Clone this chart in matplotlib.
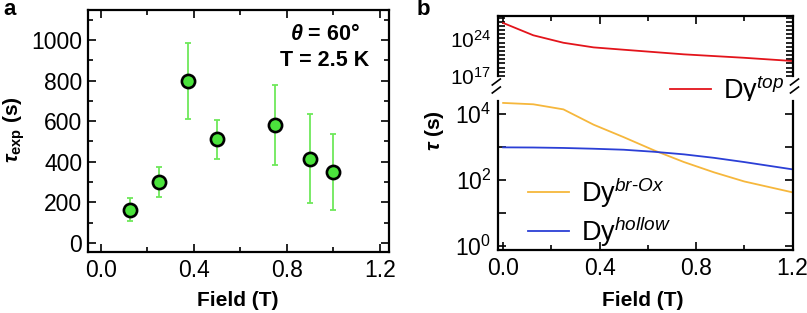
import matplotlib
matplotlib.use('Agg')
import matplotlib.pyplot as plt
from matplotlib.lines import Line2D
from matplotlib.ticker import MultipleLocator, FixedLocator, FixedFormatter, NullLocator

plt.rcParams.update({
    'font.family': ['Liberation Sans', 'DejaVu Sans'],
    'mathtext.fontset': 'custom',
    'mathtext.rm': 'Liberation Sans',
    'mathtext.it': 'Liberation Sans:italic',
    'mathtext.bf': 'Liberation Sans:bold',
    'mathtext.bfit': 'Liberation Sans:italic:bold',
})

# ---------------- data ----------------
# panel a
field_a = [0.125, 0.25, 0.375, 0.5, 0.75, 0.9, 1.0]
tau_exp = [163, 299, 797, 510, 579, 415, 350]
tau_err = [58, 73, 187, 97, 197, 220, 188]

# panel b
field_top = [0.0, 0.125, 0.25, 0.375, 0.5, 0.75, 1.0, 1.2]
tau_top = [8e26, 4e24, 1.6e23, 2.2e22, 8e21, 1.1e21, 2.5e20, 6.3e19]
field_b = [0.0, 0.125, 0.25, 0.375, 0.5, 0.625, 0.75, 0.875, 1.0, 1.2]
tau_brox = [2.2e4, 2.0e4, 1.4e4, 4.8e3, 2.0e3, 8.0e2, 3.5e2, 1.7e2, 9.0e1, 4.2e1]
tau_hollow = [9.8e2, 9.7e2, 9.4e2, 8.9e2, 8.3e2, 7.2e2, 6.0e2, 4.7e2, 3.5e2, 2.1e2]

x_ticks = [0.0, 0.4, 0.8, 1.2]
x_ticklabels = ['0.0', '0.4', '0.8', '1.2']
ya_ticks = [0, 200, 400, 600, 800, 1000]

# ---------------- figure ----------------
W, H = 807, 313
fig = plt.figure(figsize=(W / 100, H / 100), dpi=100)

def rect(l, t, r, b):
    return [l / W, 1 - b / H, (r - l) / W, (b - t) / H]

def fx(x):
    return x / W

def fy(y):
    return 1 - y / H

TICK_FS = 16.5
LAB_FS = 15
GREEN = '#4be33c'
EGREEN = '#6ee85a'
RED = '#e3141b'
ORANGE = '#f6b73c'
BLUE = '#2b3fd6'

def style(ax):
    for s in ax.spines.values():
        s.set_linewidth(1.6)
    ax.tick_params(which='both', direction='in', width=1.2, labelsize=TICK_FS,
                   top=True, right=True)
    ax.tick_params(which='major', length=5.5)
    ax.tick_params(which='minor', length=3.5)

# ---------- panel a ----------
axa = fig.add_axes(rect(87.7, 10, 389, 251.7))
style(axa)
axa.errorbar(field_a, tau_exp, yerr=tau_err, fmt='none', ecolor=EGREEN,
             elinewidth=1.3, capsize=2.4, capthick=1.3, zorder=2)
axa.plot(field_a, tau_exp, 'o', ms=9.5, mfc=GREEN, mec='black', mew=1.9, zorder=3)
axa.set_xlim(-0.057, 1.239)
axa.set_ylim(-44, 1148)
axa.set_xticks(x_ticks)
axa.set_xticklabels(x_ticklabels)
axa.xaxis.set_minor_locator(MultipleLocator(0.2))
axa.set_yticks(ya_ticks)
axa.yaxis.set_minor_locator(MultipleLocator(100))
axa.tick_params(axis='x', pad=5)
axa.tick_params(axis='y', pad=4)
fig.text(fx(325), fy(35), r'$\mathbfit{\theta}$ = 60°', ha='center', va='center',
         fontsize=15.5, fontweight='bold')
fig.text(fx(325), fy(60), 'T = 2.5 K', ha='center', va='center',
         fontsize=15.5, fontweight='bold')
fig.text(fx(238), fy(300), 'Field (T)', ha='center', va='center',
         fontsize=LAB_FS, fontweight='bold')
fig.text(fx(14), fy(130), r'$\mathbfit{\tau}_{\mathbf{exp}}$ (s)', ha='center', va='center',
         rotation=90, fontsize=LAB_FS, fontweight='bold')
fig.text(fx(3), fy(15), 'a', ha='left', va='baseline', fontsize=16, fontweight='bold')

# ---------- panel b ----------
L, R = 498.3, 792.5
axt = fig.add_axes(rect(L, 16, R, 76))
axl = fig.add_axes(rect(L, 100.7, R, 250))
for ax in (axt, axl):
    style(ax)
    ax.set_xlim(-0.02, 1.2)
    ax.set_yscale('log')
    ax.set_xticks(x_ticks)
    ax.xaxis.set_minor_locator(MultipleLocator(0.2))

axt.spines['bottom'].set_visible(False)
axt.tick_params(axis='x', which='both', bottom=False, labelbottom=False)
axt.set_ylim(1e17, 10 ** 28.2)
top_tick_pos = [10 ** (17 + 7 / 9 * k) for k in range(15)]
top_tick_lab = [''] * 15
top_tick_lab[0] = r'$\mathregular{10^{17}}$'
top_tick_lab[9] = r'$\mathregular{10^{24}}$'
axt.yaxis.set_major_locator(FixedLocator(top_tick_pos))
axt.yaxis.set_major_formatter(FixedFormatter(top_tick_lab))
axt.yaxis.set_minor_locator(NullLocator())
axt.tick_params(axis='y', which='major', length=5, pad=5, labelsize=15)
axt.plot(field_top, tau_top, color=RED, lw=1.3)

axl.spines['top'].set_visible(False)
axl.tick_params(axis='x', which='both', top=False)
axl.set_ylim(10 ** -0.13, 10 ** 4.41)
axl.yaxis.set_major_locator(FixedLocator([1, 10, 100, 1e3, 1e4]))
axl.yaxis.set_major_formatter(FixedFormatter([r'$\mathregular{10^{0}}$', '',
                                              r'$\mathregular{10^{2}}$', '',
                                              r'$\mathregular{10^{4}}$']))
axl.yaxis.set_minor_locator(NullLocator())
axl.set_xticklabels(x_ticklabels)
axl.tick_params(axis='x', pad=5)
axl.tick_params(axis='y', pad=5)
axl.plot(field_b, tau_brox, color=ORANGE, lw=1.3, label=r'Dy$^{\mathit{br}\text{-}\mathit{Ox}}$')
axl.plot(field_b, tau_hollow, color=BLUE, lw=1.3, label=r'Dy$^{\mathit{hollow}}$')

legt = axt.legend([Line2D([], [], color=RED, lw=1.3)], [r'Dy$^{\mathit{top}}$'],
                  loc='center left', bbox_to_anchor=(fx(670), fy(90)),
                  bbox_transform=fig.transFigure, frameon=False, fontsize=19.5,
                  handlelength=1.5, handletextpad=0.45, borderpad=0, borderaxespad=0)
legl = axl.legend(loc='center left', bbox_to_anchor=(fx(528), fy(212)),
                  bbox_transform=fig.transFigure, frameon=False, fontsize=19.5,
                  handlelength=1.5, handletextpad=0.45, borderpad=0, borderaxespad=0,
                  labelspacing=0.17)

# break marks
for xc in (L - 2, R + 2):
    for yc in (82, 90):
        fig.add_artist(Line2D([fx(xc - 4), fx(xc + 4)], [fy(yc + 3), fy(yc - 3)],
                              color='black', lw=1.2))

fig.text(fx(643), fy(300), 'Field (T)', ha='center', va='center',
         fontsize=LAB_FS, fontweight='bold')
fig.text(fx(435), fy(131), r'$\mathbfit{\tau}$ (s)', ha='center', va='center',
         rotation=90, fontsize=LAB_FS, fontweight='bold')
fig.text(fx(417), fy(15), 'b', ha='left', va='baseline', fontsize=16, fontweight='bold')

fig.savefig('out.png', dpi=100)
